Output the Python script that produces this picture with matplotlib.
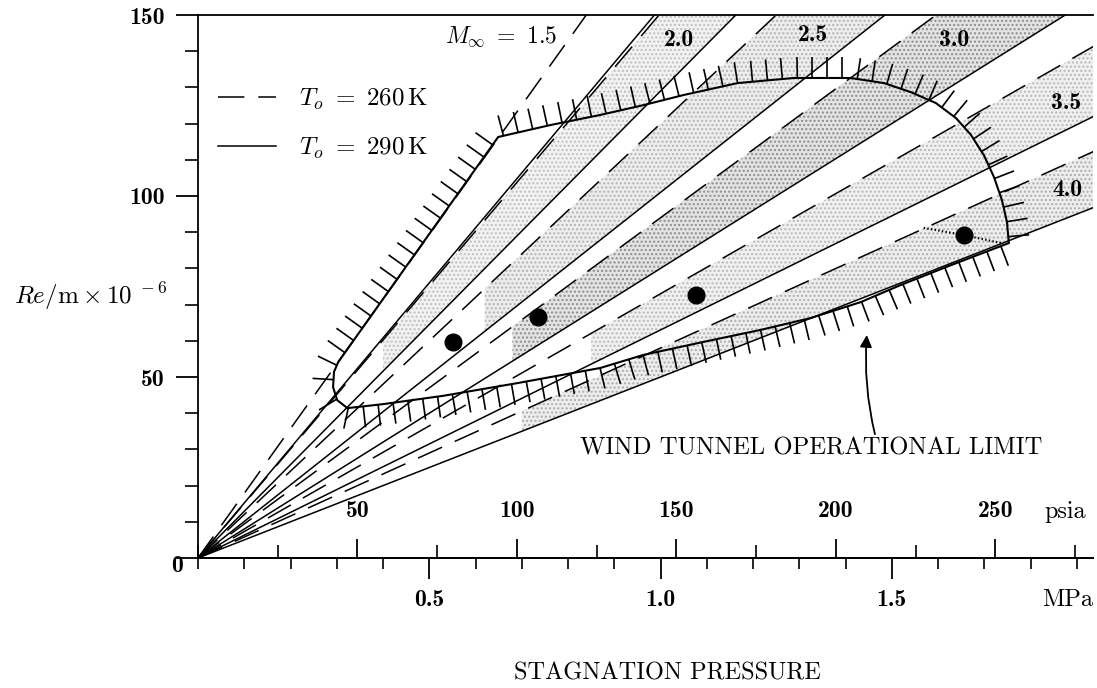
#!/usr/bin/env python3
import numpy as np
import matplotlib
matplotlib.use('Agg')
import matplotlib.pyplot as plt
import matplotlib.transforms as mtransforms
from matplotlib.collections import LineCollection
from matplotlib.ticker import FixedLocator, MultipleLocator, FuncFormatter

plt.rcParams['font.family'] = ['cmr10', 'DejaVu Serif']
plt.rcParams['mathtext.fontset'] = 'cm'
plt.rcParams['axes.unicode_minus'] = False
plt.rcParams['lines.scale_dashes'] = False
plt.rcParams['axes.linewidth'] = 1.3
plt.rcParams['hatch.linewidth'] = 1.0

MPA_PER_PSI = 0.006894757

# Mach number of each pair of rays
mach = ['1.5', '2.0', '2.5', '3.0', '3.5', '4.0']
# slope of each ray: Re/m x 1e-6 per MPa of stagnation pressure
slope_260K = [178.7, 150.5, 120.0, 94.0, 73.0, 58.0]
slope_290K = [152.0, 129.0, 101.0, 80.0, 63.0, 50.0]

# wind tunnel operating envelope (MPa, Re/m x 1e-6), clockwise from the nose
env_p = [0.292, 0.294, 0.303, 0.649, 0.762, 0.870, 0.963, 1.050, 1.167, 1.288,
         1.411, 1.483, 1.541, 1.595, 1.639, 1.671, 1.699, 1.721, 1.738, 1.749,
         1.753, 1.628, 1.519, 1.433, 1.325, 1.216, 1.093, 0.963, 0.870, 0.690,
         0.530, 0.400, 0.323, 0.301]
env_re = [47.2, 51.4, 54.1, 116.3, 119.6, 122.4, 125.1, 127.9, 131.2, 132.6,
          132.6, 131.2, 128.7, 125.7, 121.5, 116.9, 111.3, 105.2, 98.9, 92.8,
          87.0, 80.9, 75.4, 70.7, 66.3, 63.0, 59.7, 56.1, 52.5, 48.3,
          44.8, 42.5, 41.4, 43.6]

# test points
test_p = [0.552, 0.736, 1.076, 1.656]
test_re = [59.7, 66.6, 72.7, 89.2]
# dotted trail through the last point
trail_p = [1.569, 1.656, 1.736]
trail_re = [91.2, 89.2, 87.0]

# stippled bands (between the two temperatures of one Mach number)
band_start = [None, 0.40, 0.62, 0.68, 0.85, 0.70]
band_gray = [None, '0.95', '0.93', '0.89', '0.94', '0.93']
band_dots = [None, '0.75', '0.70', '0.55', '0.72', '0.68']

# label positions (MPa, Re/m)
mach_label_pos = [(0.535, 144.1), (1.039, 143.1), (1.329, 144.5),
                  (1.634, 143.1), (1.877, 125.7), (1.879, 101.7)]


def hatch_marks(ax, xs, ys, step=15.0, size=21.0):
    """short strokes normal to a closed outline, on its outer side"""
    pts = ax.transData.transform(np.column_stack([xs, ys]))
    closed = np.vstack([pts, pts[:1]])
    d = np.diff(closed, axis=0)
    cum = np.concatenate([[0.0], np.cumsum(np.hypot(d[:, 0], d[:, 1]))])
    L = cum[-1]
    xp, fx, fy = cum[:-1], pts[:, 0], pts[:, 1]
    s = np.arange(step / 2, L, step)
    px = np.interp(s, xp, fx, period=L)
    py = np.interp(s, xp, fy, period=L)
    tx = np.interp(s + 6, xp, fx, period=L) - np.interp(s - 6, xp, fx, period=L)
    ty = np.interp(s + 6, xp, fy, period=L) - np.interp(s - 6, xp, fy, period=L)
    n = np.hypot(tx, ty)
    tx, ty = tx / n, ty / n
    area = 0.5 * np.sum(closed[:-1, 0] * closed[1:, 1] - closed[1:, 0] * closed[:-1, 1])
    sgn = 1.0 if area > 0 else -1.0
    nx, ny = sgn * ty, -sgn * tx
    inv = ax.transData.inverted()
    a = inv.transform(np.column_stack([px, py]))
    b = inv.transform(np.column_stack([px + nx * size, py + ny * size]))
    return np.stack([a, b], axis=1)


fig = plt.figure(figsize=(10.97, 6.88), dpi=100)
ax = fig.add_axes([198 / 1097, 130 / 688, 895 / 1097, 543 / 688])
ax.set_xlim(0, 1.935)
ax.set_ylim(0, 150)

ax.spines['right'].set_visible(False)

# rays from the origin
p_ray = np.array([0.0, 2.0])
handles = []
for i, m in enumerate(mach):
    l260, = ax.plot(p_ray, slope_260K[i] * p_ray, color='k', lw=1.1,
                    dashes=(19, 10), zorder=2)
    l290, = ax.plot(p_ray, slope_290K[i] * p_ray, color='k', lw=1.1, zorder=2)
    if i == 0:
        handles = [l260, l290]
    if band_start[i] is not None:
        pp = np.array([band_start[i], 2.0])
        ax.fill_between(pp, slope_290K[i] * pp, slope_260K[i] * pp,
                        facecolor=band_gray[i], edgecolor=band_dots[i],
                        hatch='....', lw=0, zorder=1)

# envelope with hatching
ax.fill(env_p, env_re, facecolor='none', edgecolor='k', lw=1.5, zorder=3)
segs = hatch_marks(ax, env_p, env_re)
ax.add_collection(LineCollection(segs, colors='k', linewidths=1.2, zorder=3))

# test points
ax.plot(test_p, test_re, 'o', color='k', ms=12, zorder=4)
ax.plot(trail_p, trail_re, ':', color='k', lw=1.6, zorder=3)

# Mach labels
ax.text(*mach_label_pos[0], r'$M_\infty\ =\ \mathbf{1.5}$', fontsize=17,
        ha='left', va='center', zorder=5)
for m, (x, y) in zip(mach[1:], mach_label_pos[1:]):
    ax.text(x, y, m, fontsize=17, family='cmb10', ha='center', va='center', zorder=5)

# legend
handles[0].set_label(r'$T_o\ =\ 260\,\mathrm{K}$')
handles[1].set_label(r'$T_o\ =\ 290\,\mathrm{K}$')
ax.legend(handles=handles, loc='upper left', bbox_to_anchor=(0.022, 0.868),
          frameon=False, fontsize=18, handlelength=2.35, handletextpad=0.9,
          labelspacing=0.95, borderpad=0, borderaxespad=0)

# operational limit callout
ax.annotate('WIND TUNNEL OPERATIONAL LIMIT', xy=(1.446, 61.6), xytext=(1.325, 30.4),
            fontsize=17.8, ha='center', va='center', zorder=5,
            arrowprops=dict(arrowstyle='-|>', color='k', lw=1.3,
                            connectionstyle='arc3,rad=-0.08',
                            shrinkA=0, shrinkB=0,
                            relpos=(0.64, 1.0)))

# MPa axis (below)
ax.xaxis.set_major_locator(FixedLocator([0.5, 1.0, 1.5]))
ax.xaxis.set_minor_locator(MultipleLocator(0.1))
ax.xaxis.set_major_formatter(FuncFormatter(lambda v, _: f'{v:.1f}'))
ax.tick_params(axis='x', which='major', direction='out', length=15, width=1.3,
               pad=7, labelsize=17, labelfontfamily='cmb10')
ax.tick_params(axis='x', which='minor', direction='out', length=8, width=1.2)

# Re/m axis
ax.yaxis.set_major_locator(FixedLocator([0, 50, 100, 150]))
ax.yaxis.set_minor_locator(MultipleLocator(10))
ax.yaxis.set_major_formatter(FuncFormatter(lambda v, _: '' if v == 0 else f'{v:.0f}'))
ax.tick_params(axis='y', which='major', direction='out', length=16, width=1.3,
               pad=8, labelsize=17, labelfontfamily='cmb10')
ax.tick_params(axis='y', which='minor', direction='out', length=9.5, width=1.2)
ax.text(-0.017, -2.2, '0', transform=mtransforms.blended_transform_factory(ax.transAxes, ax.transData),
        fontsize=17, family='cmb10', ha='right', va='center')

# psia axis (above the same line)
sec = ax.secondary_xaxis('top', functions=(lambda p: p / MPA_PER_PSI,
                                           lambda s: s * MPA_PER_PSI))
sec.set_location(0.0)
sec.xaxis.set_major_locator(FixedLocator([50, 100, 150, 200, 250]))
sec.xaxis.set_minor_locator(MultipleLocator(25))
sec.xaxis.set_major_formatter(FuncFormatter(lambda v, _: f'{v:.0f}'))
sec.tick_params(which='major', direction='out', length=14, width=1.3, pad=12,
                labelsize=17, labelfontfamily='cmb10')
sec.tick_params(which='minor', direction='out', length=9.5, width=1.2)

bx = mtransforms.blended_transform_factory(ax.transData, ax.transAxes)
ax.text(1.874, 0.0856, 'psia', transform=bx, fontsize=17.5, ha='center', va='center')
ax.text(1.881, -0.0773, 'MPa', transform=bx, fontsize=17.5, ha='center', va='center')

ax.set_ylabel(r'$Re/\mathrm{m}\times 10^{\ -6}$', rotation=0, fontsize=18,
              ha='right', va='center')
ax.yaxis.set_label_coords(-0.035, 0.482)

fig.text(667 / 1097, 15 / 688, 'STAGNATION PRESSURE', fontsize=17.5,
         ha='center', va='center')

fig.savefig('out.png', dpi=100)
